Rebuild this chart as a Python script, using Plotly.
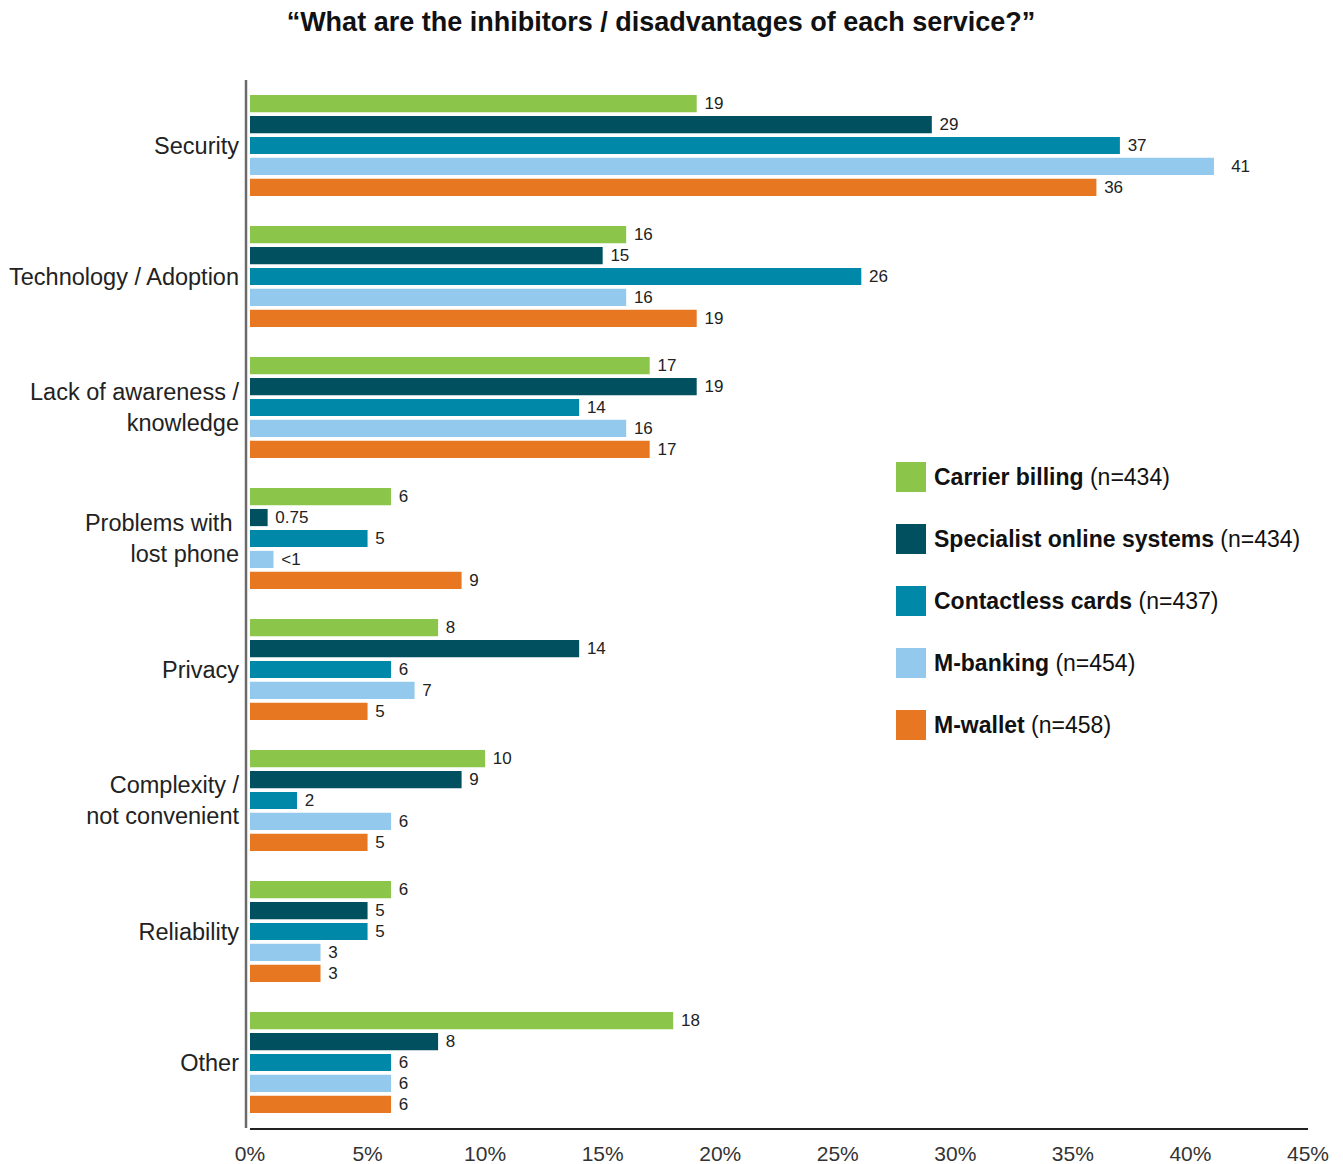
import plotly.graph_objects as go

# Inhibitor categories (top to bottom)
categories = [
    "Security",
    "Technology / Adoption",
    "Lack of awareness /<br>knowledge",
    "Problems with <br>lost phone",
    "Privacy",
    "Complexity /<br>not convenient",
    "Reliability",
    "Other",
]

# Service series: name, sample size, colour
series_names = ["Carrier billing", "Specialist online systems", "Contactless cards", "M-banking", "M-wallet"]
series_n = [434, 434, 437, 454, 458]
series_colors = ["#8BC54A", "#00505F", "#0088A8", "#93C9EC", "#E87722"]

# Percentage of respondents per category, per service
carrier_billing = [19, 16, 17, 6, 8, 10, 6, 18]
specialist_online = [29, 15, 19, 0.75, 14, 9, 5, 8]
contactless_cards = [37, 26, 14, 5, 6, 2, 5, 6]
m_banking = [41, 16, 16, 1, 7, 6, 3, 6]
m_wallet = [36, 19, 17, 9, 5, 5, 3, 6]

# Printed value labels (M-banking "lost phone" is reported as <1)
carrier_billing_labels = ["19", "16", "17", "6", "8", "10", "6", "18"]
specialist_online_labels = ["29", "15", "19", "0.75", "14", "9", "5", "8"]
contactless_cards_labels = ["37", "26", "14", "5", "6", "2", "5", "6"]
m_banking_labels = ["\u00a0\u00a041", "16", "16", "<1", "7", "6", "3", "6"]
m_wallet_labels = ["36", "19", "17", "9", "5", "5", "3", "6"]

x_ticks = [0, 5, 10, 15, 20, 25, 30, 35, 40, 45]
x_tick_labels = [f"{v}%" for v in x_ticks]

values = [carrier_billing, specialist_online, contactless_cards, m_banking, m_wallet]
labels = [carrier_billing_labels, specialist_online_labels, contactless_cards_labels,
          m_banking_labels, m_wallet_labels]

FONT = "Liberation Sans, Arial, sans-serif"
W, H = 1343, 1164
L, R, T, B = 250, 35, 80, 36
PW, PH = W - L - R, H - T - B

fig = go.Figure()
for name, color, vals, labs in zip(series_names, series_colors, values, labels):
    fig.add_trace(go.Bar(
        y=categories,
        x=vals,
        orientation="h",
        name=name,
        marker=dict(color=color, line=dict(width=0)),
        text=["\u00a0" + t for t in labs],
        textposition="outside",
        constraintext="none",
        cliponaxis=False,
        textfont=dict(family=FONT, size=17, color="#222222"),
        showlegend=False,
    ))

# Legend drawn as coloured squares with bold service name and sample size
shapes = []
annotations = []
legend_y0 = 477
legend_step = 62
for i, (name, n, color) in enumerate(zip(series_names, series_n, series_colors)):
    cy = legend_y0 + i * legend_step
    x0 = (896 - L) / PW
    x1 = (926 - L) / PW
    y0 = (H - B - (cy + 15)) / PH
    y1 = (H - B - (cy - 15)) / PH
    shapes.append(dict(type="rect", xref="paper", yref="paper", x0=x0, x1=x1, y0=y0, y1=y1,
                       fillcolor=color, line=dict(width=0)))
    annotations.append(dict(
        xref="paper", yref="paper", x=(932 - L) / PW, y=(H - B - cy) / PH,
        xanchor="left", yanchor="middle", showarrow=False,
        text=f"<b>{name}</b> (n={n})",
        font=dict(family=FONT, size=23, color="#111111"),
    ))

# Left axis rule, set just left of the bar baseline
shapes.append(dict(type="line", xref="paper", yref="paper", x0=-4 / PW, x1=-4 / PW, y0=0, y1=1,
                   line=dict(color="#6b6b6b", width=2.5)))

fig.update_layout(
    width=W, height=H,
    margin=dict(l=L, r=R, t=T, b=B, autoexpand=False),
    paper_bgcolor="white", plot_bgcolor="white",
    barmode="group", bargap=0.2, bargroupgap=0.18,
    title=dict(
        text="<b>\u201cWhat are the inhibitors / disadvantages of each service?\u201d</b>",
        x=661 / W, xanchor="center", y=1 - 22 / H, yanchor="middle",
        font=dict(family=FONT, size=27, color="#111111"),
    ),
    xaxis=dict(
        range=[0, 45], tickmode="array", tickvals=x_ticks, ticktext=x_tick_labels,
        showgrid=False, zeroline=False,
        showline=True, linecolor="#222222", linewidth=1.5, ticks="",
        tickfont=dict(family=FONT, size=21, color="#333333"),
        ticklabelstandoff=6,
    ),
    yaxis=dict(
        categoryorder="array", categoryarray=categories, autorange="reversed",
        showgrid=False, zeroline=False, showline=False, ticks="",
        tickfont=dict(family=FONT, size=23.5, color="#222222"),
        ticklabelstandoff=10,
    ),
    shapes=shapes,
    annotations=annotations,
    font=dict(family=FONT),
)

fig.write_html("out.html")
